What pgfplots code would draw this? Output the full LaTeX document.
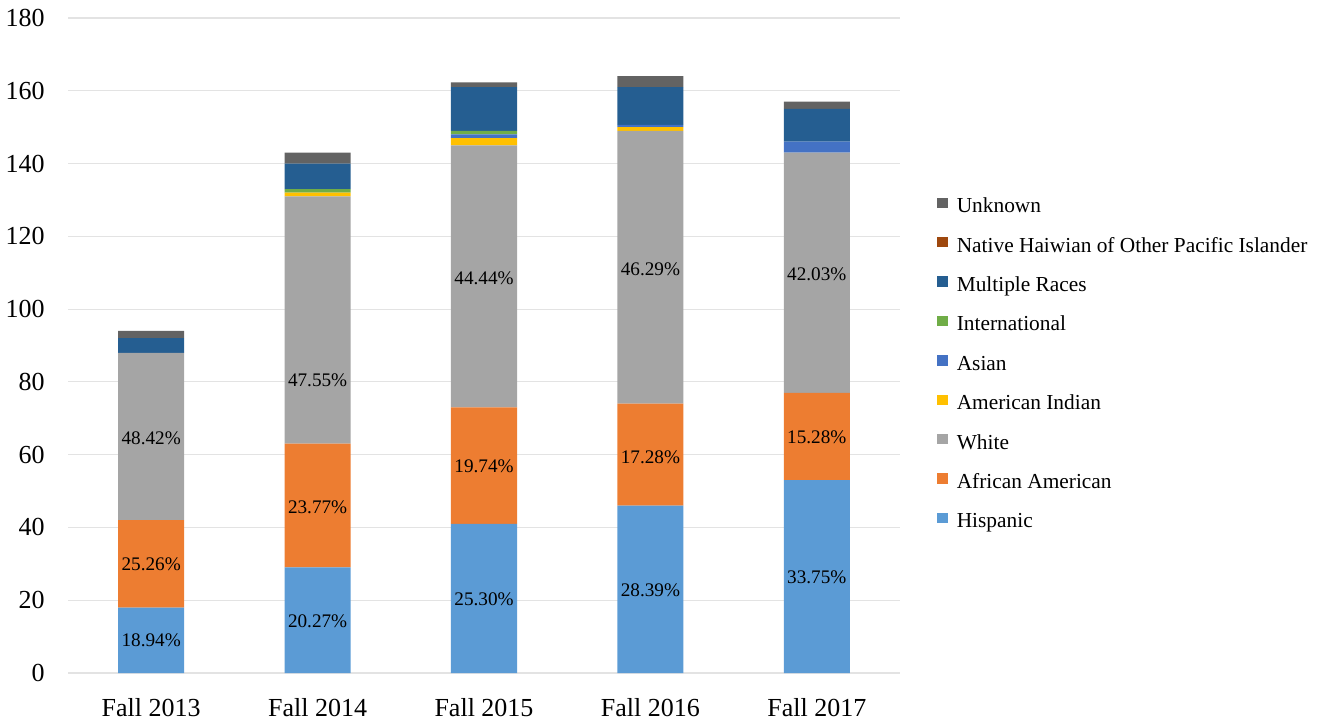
\documentclass[border=0pt]{standalone}
\usepackage{pgfplots}
\pgfplotsset{compat=1.18}
\usepackage{fontspec}
\setmainfont{Liberation Serif}
\definecolor{cHis}{HTML}{5B9BD5}
\definecolor{cAA}{HTML}{ED7D31}
\definecolor{cWhite}{HTML}{A5A5A5}
\definecolor{cAmInd}{HTML}{FFC000}
\definecolor{cAsian}{HTML}{4472C4}
\definecolor{cIntl}{HTML}{70AD47}
\definecolor{cMult}{HTML}{255E91}
\definecolor{cNHPI}{HTML}{9E480E}
\definecolor{cUnk}{HTML}{636363}
\definecolor{gridgray}{HTML}{E3E3E3}
\begin{document}
\begin{tikzpicture}
\pgfplotsset{base/.style={scale only axis, width=416pt, height=327.5pt,
  xmin=-0.5, xmax=4.5, ymin=0, ymax=180, at={(0pt,0pt)}, anchor=south west}}
\begin{axis}[base, ybar stacked, bar width=33pt,
  axis line style={draw=none},
  xtick={0,1,2,3,4},
  xticklabels={Fall 2013,Fall 2014,Fall 2015,Fall 2016,Fall 2017},
  ytick={0,20,...,180},
  tick style={draw=none},
  ymajorgrids, grid style={color=gridgray, line width=0.6pt},
  ticklabel style={font=\fontsize{13}{15}\selectfont, text=black},
  yticklabel style={anchor=east, inner sep=0pt, xshift=-11.5pt},
  xticklabel style={anchor=north, inner sep=0pt, yshift=-12.5pt},
  /pgf/number format/assume math mode=true,
  reverse legend,
  legend style={draw=none, fill=none, at={(1.0445,0.7263)}, anchor=north west,
    font=\fontsize{10.68}{12}\selectfont, inner sep=0pt, row sep=10.2pt,
    nodes={inner sep=0pt, text height=7pt, text depth=2pt}},
  legend cell align=left,
  legend image code/.code={\fill[#1] (0pt,-0.2pt) rectangle (5.2pt,5pt); \path (9.7pt,0pt);},
]
\addplot[fill=cHis, draw=none] coordinates {(0,18) (1,29) (2,41) (3,46) (4,53)};
\addplot[fill=cAA, draw=none] coordinates {(0,24) (1,34) (2,32) (3,28) (4,24)};
\addplot[fill=cWhite, draw=none] coordinates {(0,46) (1,68) (2,72) (3,75) (4,66)};
\addplot[fill=cAmInd, draw=none] coordinates {(0,0) (1,1) (2,2) (3,1) (4,0)};
\addplot[fill=cAsian, draw=none] coordinates {(0,0) (1,0) (2,1) (3,0.6) (4,3)};
\addplot[fill=cIntl, draw=none] coordinates {(0,0) (1,1) (2,1) (3,0) (4,0)};
\addplot[fill=cMult, draw=none] coordinates {(0,4) (1,7) (2,12) (3,10.4) (4,9)};
\addplot[fill=cNHPI, draw=none] coordinates {(0,0) (1,0) (2,0) (3,0) (4,0)};
\addplot[fill=cUnk, draw=none] coordinates {(0,2) (1,3) (2,1.3) (3,3) (4,2)};
\legend{Hispanic,African American,White,American Indian,Asian,International,Multiple Races,Native Haiwian of Other Pacific Islander,Unknown}
\end{axis}
\begin{axis}[base, hide axis]
\addplot[draw=none, mark=none, nodes near coords, point meta=explicit symbolic,
  nodes near coords align=center,
  every node near coord/.append style={font=\fontsize{9.6}{11}\selectfont, text=black, inner sep=0pt}]
  coordinates {
  (0,9) [18.94\%] (0,30) [25.26\%] (0,64.6) [48.42\%]
  (1,14.3) [20.27\%] (1,45.6) [23.77\%] (1,80.5) [47.55\%]
  (2,20.2) [25.30\%] (2,56.8) [19.74\%] (2,108.6) [44.44\%]
  (3,22.7) [28.39\%] (3,59.3) [17.28\%] (3,110.9) [46.29\%]
  (4,26.3) [33.75\%] (4,64.8) [15.28\%] (4,109.6) [42.03\%]
  };
\end{axis}
\pgfresetboundingbox
\path[use as bounding box] (-34pt,-24pt) rectangle (628.5pt,336.5pt);
\end{tikzpicture}
\end{document}
